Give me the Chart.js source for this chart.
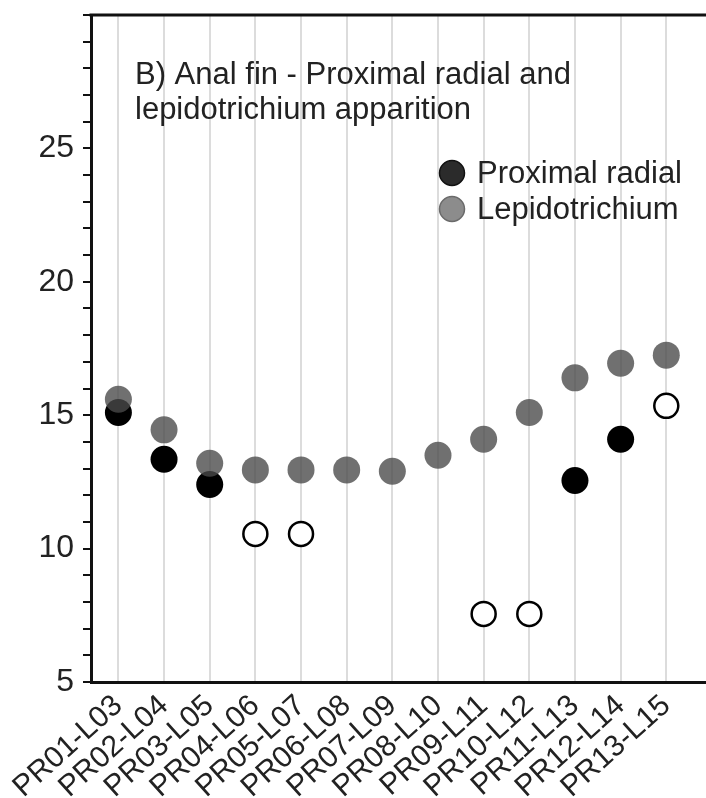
<!DOCTYPE html>
<html>
<head>
<meta charset="utf-8">
<script src="https://cdn.jsdelivr.net/npm/chart.js@4/dist/chart.umd.min.js"></script>
<style>
html,body{margin:0;padding:0;background:#fff;}
#wrap{position:relative;width:706px;height:798px;}
</style>
</head>
<body>
<div id="wrap"><canvas id="c" width="706" height="798"></canvas></div>
<script>
const categories = ["PR01-L03","PR02-L04","PR03-L05","PR04-L06","PR05-L07","PR06-L08","PR07-L09","PR08-L10","PR09-L11","PR10-L12","PR11-L13","PR12-L14","PR13-L15"];
const proximalRadial = [15.1, 13.35, 12.4, 10.55, 10.55, null, null, null, 7.55, 7.55, 12.55, 14.1, 15.35];
const proximalOpen = [false, false, false, true, true, false, false, false, true, true, false, false, true];
const lepidotrichium = [15.6, 14.45, 13.2, 12.95, 12.95, 12.95, 12.9, 13.5, 14.1, 15.1, 16.4, 16.95, 17.25];
const yTicks = [5, 10, 15, 20, 25];
const titleLines = ["B) Anal fin - Proximal radial and", "lepidotrichium apparition"];
const legendLabels = ["Proximal radial", "Lepidotrichium"];

const FONT = '"Liberation Sans", Arial, Helvetica, sans-serif';

const prPoints = [], prBg = [], prBw = [], prR = [];
proximalRadial.forEach((v, i) => {
  if (v === null) return;
  prPoints.push({x: i + 1, y: v});
  prBg.push(proximalOpen[i] ? '#ffffff' : '#000000');
  prBw.push(proximalOpen[i] ? 2.5 : 0);
  prR.push(proximalOpen[i] ? 12 : 13.5);
});
const lpPoints = lepidotrichium.map((v, i) => ({x: i + 1, y: v}));

const decor = {
  id: 'decor',
  afterDraw(chart) {
    const ctx = chart.ctx, a = chart.chartArea;
    ctx.save();
    ctx.strokeStyle = '#111';
    ctx.lineWidth = 3;
    ctx.beginPath();
    ctx.moveTo(a.left - 1.5, a.top);
    ctx.lineTo(a.right, a.top);
    ctx.stroke();
    ctx.fillStyle = '#222';
    ctx.font = '31px ' + FONT;
    ctx.textAlign = 'left';
    ctx.textBaseline = 'alphabetic';
    ctx.fillText(titleLines[0], 135, 84);
    ctx.fillText(titleLines[1], 135, 119);
    const items = [
      {label: legendLabels[0], fill: '#2b2b2b', stroke: '#111', y: 173},
      {label: legendLabels[1], fill: '#8c8c8c', stroke: '#6a6a6a', y: 209}
    ];
    ctx.font = '31px ' + FONT;
    items.forEach(it => {
      ctx.beginPath();
      ctx.arc(452, it.y, 12.5, 0, Math.PI * 2);
      ctx.fillStyle = it.fill;
      ctx.fill();
      ctx.lineWidth = 1.5;
      ctx.strokeStyle = it.stroke;
      ctx.stroke();
      ctx.fillStyle = '#222';
      ctx.textBaseline = 'middle';
      ctx.fillText(it.label, 477, it.y + 1);
    });
    ctx.restore();
  }
};

new Chart(document.getElementById('c'), {
  type: 'scatter',
  data: {
    datasets: [
      {
        label: legendLabels[0],
        data: prPoints,
        order: 2,
        pointBackgroundColor: prBg,
        pointBorderColor: '#000',
        pointBorderWidth: prBw,
        pointRadius: prR,
        pointHoverRadius: prR,
        showLine: false
      },
      {
        label: legendLabels[1],
        data: lpPoints,
        order: 1,
        pointBackgroundColor: 'rgba(73,73,73,0.79)',
        pointBorderWidth: 0,
        pointBorderColor: 'rgba(0,0,0,0)',
        pointRadius: 13.5,
        pointHoverRadius: 13.5,
        showLine: false
      }
    ]
  },
  options: {
    responsive: false,
    animation: false,
    layout: {autoPadding: false, padding: {top: 15, right: 0, left: 0, bottom: 0}},
    plugins: {legend: {display: false}, tooltip: {enabled: false}},
    scales: {
      x: {
        type: 'linear',
        min: 0.4,
        max: 13.87,
        afterBuildTicks: s => { s.ticks = categories.map((c, i) => ({value: i + 1})); },
        afterFit: s => { s.height = 116; s.paddingLeft = 0; s.paddingRight = 0; },
        grid: {display: true, color: '#dcdcdc', lineWidth: 2, drawTicks: false},
        border: {display: true, color: '#111', width: 3},
        ticks: {
          autoSkip: false,
          maxRotation: 42,
          minRotation: 42,
          padding: 6,
          color: '#222',
          font: {family: FONT, size: 30},
          callback: (v) => categories[Math.round(v) - 1] || ''
        }
      },
      y: {
        min: 5,
        max: 30,
        afterFit: s => { s.width = 91; s.paddingTop = 0; s.paddingBottom = 0; },
        afterBuildTicks: s => {
          const t = [];
          for (let v = 5; v <= 30; v++) t.push({value: v});
          s.ticks = t;
        },
        grid: {drawOnChartArea: false, drawTicks: true, tickLength: 8, color: '#111', lineWidth: 2},
        border: {display: true, color: '#111', width: 3},
        ticks: {
          autoSkip: false,
          padding: 9,
          color: '#222',
          font: {family: FONT, size: 32},
          callback: (v) => yTicks.includes(v) ? String(v) : ''
        }
      }
    }
  },
  plugins: [decor]
});
</script>
</body>
</html>
